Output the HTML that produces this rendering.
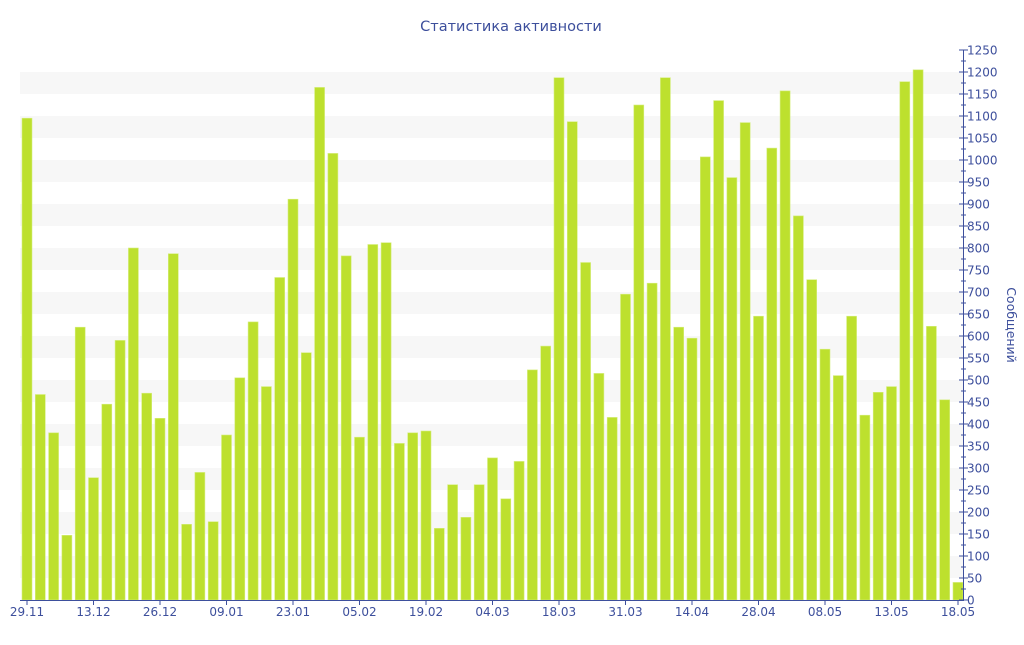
<!DOCTYPE html>
<html><head><meta charset="utf-8"><style>
body{margin:0;background:#fff;width:1024px;height:640px;overflow:hidden}
svg text{font-family:"DejaVu Sans","Liberation Sans",sans-serif;fill:#3d4f9c}
</style></head><body>
<svg id="s" width="1024" height="640" xmlns="http://www.w3.org/2000/svg">
<text x="511" y="31" font-size="14.5" text-anchor="middle">Статистика активности</text>
<text transform="translate(1007,325) rotate(90)" font-size="12.5" text-anchor="middle">Сообщений</text>
<g id="g"></g>
</svg>
<script>
var v=[1095,467,380,147,620,278,445,590,800,470,413,787,172,290,178,375,505,632,485,733,911,562,1165,1015,782,370,808,812,356,380,384,163,262,188,262,323,230,315,523,577,1187,1087,767,515,415,695,1125,720,1187,620,595,1007,1135,960,1085,645,1027,1157,873,728,570,510,645,420,472,485,1178,1205,622,455,40];
var h='',k=0.44;
for(var t=50;t<1250;t+=100){h+='<rect x="20" y="'+(600-(t+50)*k)+'" width="943" height="22" fill="#f7f7f7"/>';}
for(var i=0;i<v.length;i++){var x=22+i*13.3;h+='<rect x="'+x.toFixed(1)+'" y="'+(600-v[i]*k).toFixed(1)+'" width="10" height="'+(v[i]*k).toFixed(1)+'" fill="#bde02e" stroke="#d6ee80" stroke-width="0.6"/>';}
h+='<line x1="20" y1="600.5" x2="963" y2="600.5" stroke="#3d4f9c"/>';
h+='<line x1="963.5" y1="50" x2="963.5" y2="601" stroke="#3d4f9c"/>';
for(var t=0;t<=1250;t+=25){var y=600-t*k;h+='<line x1="'+(t%50?961:959)+'" y1="'+y+'" x2="'+(t%50?966:968)+'" y2="'+y+'" stroke="#3d4f9c"/>';if(t%50==0)h+='<text x="967" y="'+(y+4.5)+'" font-size="12">'+t+'</text>';}
var L=['29.11','13.12','26.12','09.01','23.01','05.02','19.02','04.03','18.03','31.03','14.04','28.04','08.05','13.05','18.05'];
for(var j=0;j<L.length;j++){var x=27+j*66.5;h+='<line x1="'+x+'" y1="600" x2="'+x+'" y2="605" stroke="#3d4f9c"/><text x="'+x+'" y="616" font-size="12" text-anchor="middle">'+L[j]+'</text>';}
document.getElementById('g').innerHTML=h;
</script>
</body></html>
